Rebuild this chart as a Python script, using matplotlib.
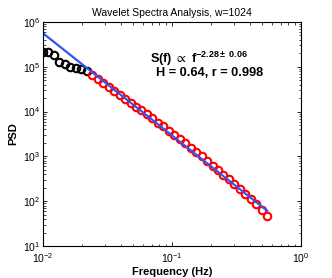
import numpy as np
import matplotlib
matplotlib.use('Agg')
import matplotlib.pyplot as plt
from matplotlib.ticker import LogLocator, NullFormatter

plt.rcParams['font.family'] = ['Liberation Sans', 'DejaVu Sans']
plt.rcParams['mathtext.fontset'] = 'custom'
plt.rcParams['mathtext.rm'] = 'Liberation Sans'
plt.rcParams['mathtext.bf'] = 'Liberation Sans:bold'
plt.rcParams['mathtext.it'] = 'Liberation Sans:italic'
plt.rcParams['mathtext.fallback'] = 'stixsans'

# 低频段（未参与拟合）
freq_low = [0.0100, 0.01103, 0.01216, 0.01341, 0.01478, 0.01629, 0.01796, 0.01981, 0.02184]
psd_low = [2.11e5, 2.14e5, 1.83e5, 1.30e5, 1.14e5, 9.75e4, 9.27e4, 8.94e4, 8.19e4]

# 拟合段
freq_fit = [0.02407, 0.02655, 0.02927, 0.03227, 0.03558, 0.03923, 0.04325, 0.04769,
            0.05258, 0.05797, 0.06392, 0.07047, 0.07770, 0.08567, 0.09445, 0.1041,
            0.1148, 0.1266, 0.1396, 0.1539, 0.1697, 0.1871, 0.2063, 0.2274,
            0.2507, 0.2764, 0.3048, 0.3360, 0.3705, 0.4085, 0.4504, 0.4966, 0.5475]
psd_fit = [6.59e4, 5.27e4, 4.33e4, 3.46e4, 2.84e4, 2.33e4, 1.91e4, 1.57e4,
           1.29e4, 1.06e4, 8.68e3, 7.12e3, 5.69e3, 4.67e3, 3.74e3, 2.99e3,
           2.45e3, 1.96e3, 1.57e3, 1.255e3, 1.004e3, 803, 626, 501,
           390, 312, 243, 190, 144, 112, 85.3, 63.2, 46.3]

# 拟合直线
fit_f = [0.0100, 0.5475]
fit_psd = [5.6e5, 60.8]

fig = plt.figure(figsize=(3.32, 2.78), dpi=100)
ax = fig.add_axes([0.1295, 0.1151, 0.7771, 0.8058])

ax.loglog(freq_low, psd_low, 'o', mfc='none', mec='black', ms=5.4, mew=1.5)
ax.loglog(freq_fit, psd_fit, 'o', mfc='none', mec='red', ms=5.4, mew=1.5)
ax.loglog(fit_f, fit_psd, '-', color='#3355ee', lw=1.6)

ax.set_xlim(1e-2, 1e0)
ax.set_ylim(1e1, 1e6)
ax.xaxis.set_major_locator(LogLocator(base=10, numticks=10))
ax.yaxis.set_major_locator(LogLocator(base=10, numticks=10))
ax.xaxis.set_minor_locator(LogLocator(base=10, subs=np.arange(2, 10), numticks=10))
ax.yaxis.set_minor_locator(LogLocator(base=10, subs=np.arange(2, 10), numticks=10))
ax.xaxis.set_minor_formatter(NullFormatter())
ax.yaxis.set_minor_formatter(NullFormatter())
ax.tick_params(which='both', direction='in', top=True, right=True, labelsize=7.5, colors='black')
ax.tick_params(which='major', length=3, width=0.6)
ax.tick_params(which='minor', length=1.8, width=0.5)
ax.tick_params(axis='x', pad=4)
ax.tick_params(axis='y', pad=2)
for s in ax.spines.values():
    s.set_linewidth(0.8)

ax.set_title('Wavelet Spectra Analysis, w=1024', fontsize=7.5, pad=4)
ax.set_xlabel('Frequency (Hz)', fontsize=8, fontweight='bold', labelpad=1)
ax.set_ylabel('PSD', fontsize=8, fontweight='bold', labelpad=3)

ax.text(0.415, 0.835, r'S(f) $\propto$ f$^{\mathbf{-2.28\pm\ 0.06}}$', transform=ax.transAxes,
        fontsize=9.2, fontweight='bold', ha='left', va='center')
ax.text(0.438, 0.772, 'H = 0.64, r = 0.998', transform=ax.transAxes,
        fontsize=9.2, fontweight='bold', ha='left', va='center')

fig.savefig('out.png', dpi=100)
